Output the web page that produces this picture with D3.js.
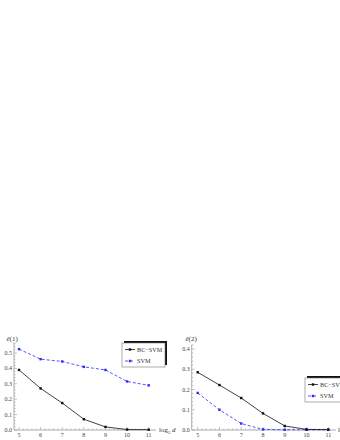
<!DOCTYPE html>
<html lang="en">
<head>
  <meta charset="UTF-8">
  <title>Error rate vs log2 d</title>
  <script src="https://d3js.org/d3.v7.min.js"></script>
</head>
<body style="background-color: white; margin: 0; padding: 0;">
<svg width="340" height="440" id="chart"></svg>
<script>
// data
const xVals = [5, 6, 7, 8, 9, 10, 11];
const bc1 = [0.39, 0.27, 0.175, 0.07, 0.02, 0.003, 0.002];
const svm1 = [0.525, 0.46, 0.445, 0.41, 0.39, 0.315, 0.29];
const bc2 = [0.285, 0.222, 0.158, 0.082, 0.02, 0.003, 0.002];
const svm2 = [0.183, 0.1, 0.032, 0.003, 0.001, 0.001, 0.001];
const yTicks1 = [0, 0.1, 0.2, 0.3, 0.4, 0.5];
const yTicks2 = [0, 0.1, 0.2, 0.3, 0.4];
const seriesNames = ["BC\u2212SVM", "SVM"];

const svg = d3.select("#chart");
const font = "'Liberation Serif', 'DejaVu Serif', serif";
const axisColor = "#999";
const blue = "#2b2bff";

function drawPanel(opt) {
  const g = svg.append("g");
  const x = d3.scaleLinear().domain([5, 11]).range([opt.x5, opt.x11]);
  const y = d3.scaleLinear().domain([0, opt.yTop]).range([opt.y0, opt.yTopPx]);

  // axes lines
  g.append("line").attr("x1", opt.axisLeft).attr("x2", opt.axisRight)
    .attr("y1", opt.y0).attr("y2", opt.y0).attr("stroke", axisColor).attr("stroke-width", 0.8);
  g.append("line").attr("x1", opt.axisLeft).attr("x2", opt.axisLeft)
    .attr("y1", opt.y0).attr("y2", y(opt.yMax)).attr("stroke", axisColor).attr("stroke-width", 0.8);

  // y ticks (major + minor)
  const minorY = d3.range(0, opt.yMax + 1e-9, 0.02);
  g.selectAll(".ymin").data(minorY).enter().append("line")
    .attr("x1", opt.axisLeft).attr("x2", d => opt.axisLeft + (Math.abs(d * 10 - Math.round(d * 10)) < 1e-6 ? 3 : 1.5))
    .attr("y1", d => y(d)).attr("y2", d => y(d))
    .attr("stroke", axisColor).attr("stroke-width", 0.6);
  g.selectAll(".ylab").data(opt.yTicks).enter().append("text")
    .attr("x", opt.axisLeft - 2).attr("y", d => y(d) + 2)
    .attr("text-anchor", "end").attr("font-family", font).attr("font-size", 6)
    .attr("fill", "#444").text(d => d.toFixed(1));

  // x ticks
  const minorX = d3.range(5, 11.01, 0.2);
  g.selectAll(".xmin").data(minorX).enter().append("line")
    .attr("x1", d => x(d)).attr("x2", d => x(d))
    .attr("y1", opt.y0).attr("y2", d => opt.y0 - (Math.abs(d - Math.round(d)) < 1e-6 ? 3 : 1.5))
    .attr("stroke", axisColor).attr("stroke-width", 0.6);
  g.selectAll(".xlab").data(xVals).enter().append("text")
    .attr("x", d => x(d)).attr("y", opt.y0 + 6.5)
    .attr("text-anchor", "middle").attr("font-family", font).attr("font-size", 6)
    .attr("fill", "#444").text(d => d);

  // axis labels
  const yl = g.append("text").attr("x", opt.yLabelX).attr("y", opt.yLabelY)
    .attr("font-family", font).attr("font-size", 7).attr("fill", "#333");
  yl.append("tspan").attr("font-style", "italic").text("\u00ea");
  yl.append("tspan").text(opt.yLabelTail);
  const xl = g.append("text").attr("x", opt.xLabelX).attr("y", opt.y0 + 2)
    .attr("font-family", font).attr("font-size", 7).attr("fill", "#333");
  xl.append("tspan").text("log");
  xl.append("tspan").attr("font-size", 4.5).attr("dy", 1.5).text("2");
  xl.append("tspan").attr("dy", -1.5).attr("font-style", "italic").text(" d");

  // series
  const line = vals => d3.line().x((d, i) => x(xVals[i])).y(d => y(d))(vals);
  g.append("path").attr("d", line(opt.svm)).attr("fill", "none")
    .attr("stroke", blue).attr("stroke-width", 0.8).attr("stroke-dasharray", "3,2");
  g.append("path").attr("d", line(opt.bc)).attr("fill", "none")
    .attr("stroke", "#111").attr("stroke-width", 0.8);
  g.selectAll(".ms").data(opt.svm).enter().append("rect")
    .attr("x", (d, i) => x(xVals[i]) - 1.2).attr("y", d => y(d) - 1.2)
    .attr("width", 2.4).attr("height", 2.4).attr("fill", blue);
  g.selectAll(".mb").data(opt.bc).enter().append("rect")
    .attr("x", (d, i) => x(xVals[i]) - 1.2).attr("y", d => y(d) - 1.2)
    .attr("width", 2.4).attr("height", 2.4).attr("fill", "#111");

  // legend box with shadow
  const lg = g.append("g").attr("transform", `translate(${opt.legX},${opt.legY})`);
  lg.append("rect").attr("x", 2).attr("y", -2).attr("width", 43).attr("height", 24).attr("fill", "#111");
  lg.append("rect").attr("x", 0).attr("y", 0).attr("width", 43).attr("height", 24)
    .attr("fill", "white").attr("stroke", "#777").attr("stroke-width", 0.6);
  const colors = ["#111", blue];
  const dashes = [null, "3,2"];
  seriesNames.forEach((name, i) => {
    const yy = 6.5 + i * 11.5;
    lg.append("line").attr("x1", 3).attr("x2", 13).attr("y1", yy).attr("y2", yy)
      .attr("stroke", colors[i]).attr("stroke-width", 0.8).attr("stroke-dasharray", dashes[i]);
    lg.append("rect").attr("x", 8 - 1.2).attr("y", yy - 1.2).attr("width", 2.4).attr("height", 2.4)
      .attr("fill", colors[i]);
    lg.append("text").attr("x", 15).attr("y", yy + 2.2).attr("font-family", font)
      .attr("font-size", 6.2).attr("fill", "#333").text(name);
  });
}

drawPanel({
  x5: 19, x11: 148.7, axisLeft: 14, axisRight: 156,
  y0: 430, yTop: 0.5, yTopPx: 353, yMax: 0.57,
  yTicks: yTicks1, bc: bc1, svm: svm1,
  yLabelX: 6.5, yLabelY: 341, yLabelTail: "(1)",
  xLabelX: 159, legX: 122, legY: 343
});

drawPanel({
  x5: 197.7, x11: 328.3, axisLeft: 191.7, axisRight: 336,
  y0: 430, yTop: 0.4, yTopPx: 349, yMax: 0.42,
  yTicks: yTicks2, bc: bc2, svm: svm2,
  yLabelX: 185.5, yLabelY: 341, yLabelTail: "(2)",
  xLabelX: 338, legX: 305, legY: 378
});
</script>
</body>
</html>
